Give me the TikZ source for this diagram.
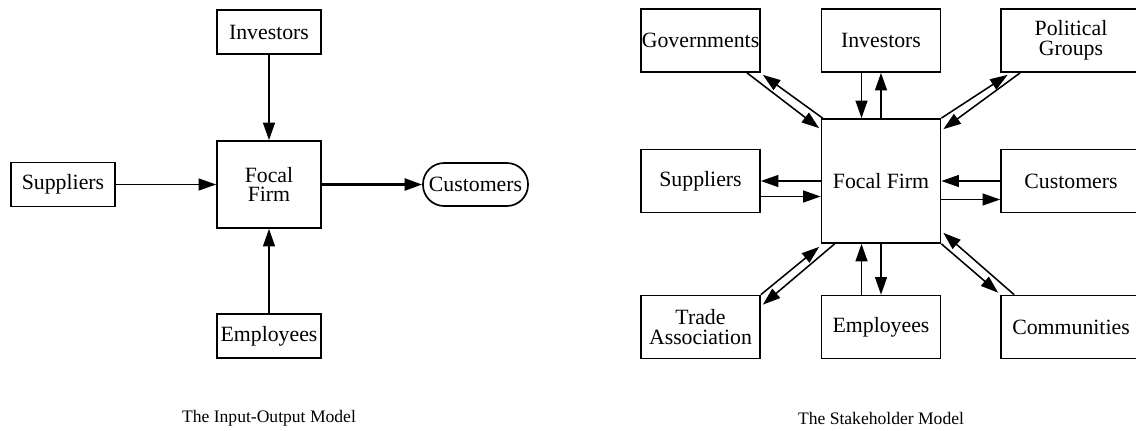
\documentclass[tikz,border=0pt]{standalone}
\usepackage{fontspec}
\setmainfont{Liberation Serif}
\usetikzlibrary{arrows.meta,calc}
\begin{document}
\begin{tikzpicture}[x=0.025cm, y=-0.025cm,
	>={Triangle[length=12.5pt, width=8.5pt]},
	box/.style={draw, line width=1.2pt, minimum width=2.6cm, minimum height=1.1cm,
		inner sep=0pt, align=center, font=\fontsize{15.5}{14}\selectfont},
	pill/.style={box, minimum width=2.625cm, minimum height=1.075cm, rounded corners=0.53cm},
	box2/.style={box, minimum width=2.975cm, minimum height=1.575cm},
	wide/.style={minimum width=3.5cm},
	flow/.style={->, line width=1.1pt},
	caption/.style={font=\fontsize{12.5}{14}\selectfont}]
	\useasboundingbox (0,0) rectangle (1136,430);
	\clip (0,0) rectangle (1136,430);
	
	\node[box] (inv1) at (269,32) {Investors};
	\node[box, minimum height=2.175cm] (firm1) at (269,184.5) {Focal\\Firm};
	\node[box] (sup1) at (63,184.5) {Suppliers};
	\node[pill] (cust1) at (475.5,184.5) {Customers};
	\node[box] (emp1) at (269,336) {Employees};
	
	\draw[flow] (inv1) -- (firm1);
	\draw[flow] (sup1) -- (firm1);
	\draw[flow] (emp1) -- (firm1);
	\draw[flow, line width=2pt] (firm1) -- (cust1);
	
	\node[box2] (gov2) at (700.5,40.5) {Governments};
	\node[box2] (inv2) at (881,40.5) {Investors};
	\node[box2, wide] (pol2) at (1071,40.5) {Political\\Groups};
	\node[box2, minimum height=3.1cm] (firm2) at (881,181) {Focal Firm};
	\node[box2] (sup2) at (700.5,181) {Suppliers};
	\node[box2, wide] (cust2) at (1071,181) {Customers};
	\node[box2] (trade2) at (700.5,327) {Trade\\Association};
	\node[box2] (emp2) at (881,327) {Employees};
	\node[box2, wide] (comm2) at (1071,327) {Communities};
	
	\draw[flow] ($(inv2.south)+(-19.5,0)$) -- ($(firm2.north)+(-19.5,0)$);
	\draw[flow] (firm2) -- (inv2);
	\draw[flow] ($(emp2.north)+(-19.5,0)$) -- ($(firm2.south)+(-19.5,0)$);
	\draw[flow] (firm2) -- (emp2);
	\draw[flow] (firm2) -- (sup2);
	\draw[flow] ($(sup2.east)+(0,15.5)$) -- ($(firm2.west)+(0,15.5)$);
	\draw[flow] (cust2) -- (firm2);
	\draw[flow] ($(firm2.east)+(0,18.5)$) -- ($(cust2.west)+(0,18.5)$);
	
	\draw[flow] ($(gov2.south)+(46.5,0)$) -- ($(firm2.north west)+(-1.5,10)$);
	\draw[flow] ($(firm2.north west)+(2,0)$) -- ($(gov2.south east)+(2,2)$);
	\draw[flow] (firm2.north east) -- ($(pol2.south west)+(7.5,2)$);
	\draw[flow] ($(pol2.south west)+(20,0)$) -- ($(firm2.north east)+(2,11)$);
	\draw[flow] (trade2.north east) -- ($(firm2.south west)+(-1.5,3)$);
	\draw[flow] ($(firm2.south west)+(14,0)$) -- ($(trade2.north east)+(2,10)$);
	\draw[flow] ($(comm2.north west)+(14,0)$) -- ($(firm2.south east)+(2,-11)$);
	\draw[flow] (firm2.south east) -- ($(comm2.north west)+(-2,-2)$);
	
	\node[caption] (cap1) at (269,418) {The Input-Output Model};
	\node[caption] (cap2) at (881,418) {The Stakeholder Model};
\end{tikzpicture}
\end{document}
